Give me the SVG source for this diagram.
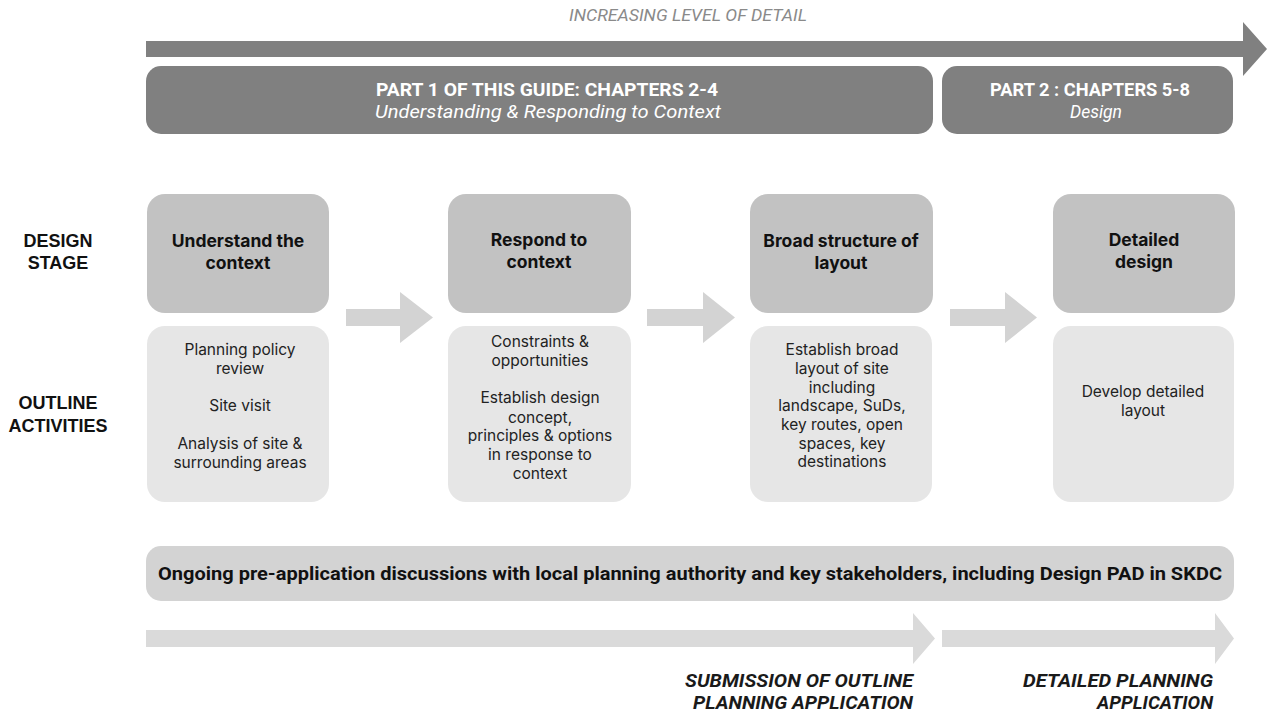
<svg xmlns="http://www.w3.org/2000/svg" width="1267" height="713" viewBox="0 0 1267 713">
<style>
.bg{fill:#ffffff}
.dark{fill:#808080}
.stage{fill:#c2c2c2}
.act{fill:#e6e6e6}
.conn{fill:#d3d3d3}
.lowarrow{fill:#dadada}
.ongoing{fill:#d3d3d3}
.top{font-family:Roboto,"Liberation Sans",sans-serif;font-style:italic;font-size:16.5px;fill:#8a8a8a;text-anchor:middle}
.parth{font-family:Roboto,"Liberation Sans",sans-serif;font-weight:700;font-size:18.5px;fill:#ffffff;text-anchor:middle}
.parti{font-family:Roboto,"Liberation Sans",sans-serif;font-style:italic;font-size:18.5px;fill:#ffffff;text-anchor:middle}
.rowlab{font-family:"Liberation Sans",Arial,sans-serif;font-weight:700;font-size:18px;fill:#111;text-anchor:middle}
.title{font-family:Inter,"Liberation Sans",sans-serif;font-weight:700;font-size:17.5px;fill:#111;text-anchor:middle}
.body{font-family:Inter,"Liberation Sans",sans-serif;font-size:15.5px;fill:#222;text-anchor:middle}
.ong{font-family:Roboto,"Liberation Sans",sans-serif;font-weight:700;font-size:19px;fill:#111;text-anchor:middle}
.sub{font-family:Roboto,"Liberation Sans",sans-serif;font-weight:700;font-style:italic;font-size:19px;fill:#1a1a1a;text-anchor:end}
</style>
<rect class="bg" x="0" y="0" width="1267" height="713"/>

<g id="header">
<text class="top" x="688" y="21" textLength="238" lengthAdjust="spacingAndGlyphs">INCREASING LEVEL OF DETAIL</text>
<polygon class="dark" points="146,41 1243,41 1243,22 1267,49 1243,76 1243,57 146,57"/>
</g>

<g id="part1">
<rect class="dark" x="146" y="66" width="787" height="68" rx="15"/>
<text class="parth" x="547" y="96" textLength="342" lengthAdjust="spacingAndGlyphs">PART 1 OF THIS GUIDE: CHAPTERS 2-4</text>
<text class="parti" x="548" y="118" textLength="346" lengthAdjust="spacingAndGlyphs">Understanding &amp; Responding to Context</text>
</g>
<g id="part2">
<rect class="dark" x="942" y="66" width="291" height="68" rx="15"/>
<text class="parth" x="1090" y="96" textLength="200" lengthAdjust="spacingAndGlyphs">PART 2 : CHAPTERS 5-8</text>
<text class="parti" x="1096" y="118" textLength="52" lengthAdjust="spacingAndGlyphs">Design</text>
</g>

<g id="row-labels">
<text class="rowlab" x="58" y="247">DESIGN</text>
<text class="rowlab" x="58" y="269">STAGE</text>
<text class="rowlab" x="58" y="409">OUTLINE</text>
<text class="rowlab" x="58" y="432">ACTIVITIES</text>
</g>

<g id="stage1">
<rect class="stage" x="147" y="194" width="182" height="119" rx="18"/>
<text class="title" x="238" y="247">Understand the</text>
<text class="title" x="238" y="269">context</text>
</g>
<g id="activity1">
<rect class="act" x="147" y="326" width="182" height="176" rx="18"/>
<text class="body" x="240" y="355">Planning policy</text>
<text class="body" x="240" y="374">review</text>
<text class="body" x="240" y="411">Site visit</text>
<text class="body" x="240" y="449">Analysis of site &amp;</text>
<text class="body" x="240" y="468">surrounding areas</text>
</g>

<g id="stage2">
<rect class="stage" x="448" y="194" width="183" height="119" rx="18"/>
<text class="title" x="539" y="246">Respond to</text>
<text class="title" x="539" y="268">context</text>
</g>
<g id="activity2">
<rect class="act" x="448" y="326" width="183" height="176" rx="18"/>
<text class="body" x="540" y="347">Constraints &amp;</text>
<text class="body" x="540" y="366">opportunities</text>
<text class="body" x="540" y="403">Establish design</text>
<text class="body" x="540" y="423">concept,</text>
<text class="body" x="540" y="441">principles &amp; options</text>
<text class="body" x="540" y="460">in response to</text>
<text class="body" x="540" y="479">context</text>
</g>

<g id="stage3">
<rect class="stage" x="750" y="194" width="183" height="119" rx="18"/>
<text class="title" x="841" y="247">Broad structure of</text>
<text class="title" x="841" y="269">layout</text>
</g>
<g id="activity3">
<rect class="act" x="750" y="326" width="182" height="176" rx="18"/>
<text class="body" x="842" y="355">Establish broad</text>
<text class="body" x="842" y="374">layout of site</text>
<text class="body" x="842" y="393">including</text>
<text class="body" x="842" y="411">landscape, SuDs,</text>
<text class="body" x="842" y="430">key routes, open</text>
<text class="body" x="842" y="449">spaces, key</text>
<text class="body" x="842" y="467">destinations</text>
</g>

<g id="stage4">
<rect class="stage" x="1053" y="194" width="182" height="119" rx="18"/>
<text class="title" x="1144" y="246">Detailed</text>
<text class="title" x="1144" y="268">design</text>
</g>
<g id="activity4">
<rect class="act" x="1053" y="326" width="181" height="176" rx="18"/>
<text class="body" x="1143" y="397">Develop detailed</text>
<text class="body" x="1143" y="416">layout</text>
</g>

<g id="connectors">
<polygon class="conn" points="346,309 400,309 400,292 433,317.5 400,343 400,326 346,326"/>
<polygon class="conn" points="647,309 703,309 703,292 735,317.5 703,343 703,326 647,326"/>
<polygon class="conn" points="950,309 1005,309 1005,292 1037,317.5 1005,343 1005,326 950,326"/>
</g>

<g id="ongoing">
<rect class="ongoing" x="146" y="546" width="1088" height="55" rx="15"/>
<text class="ong" x="690" y="580" textLength="1064" lengthAdjust="spacingAndGlyphs">Ongoing pre-application discussions with local planning authority and key stakeholders, including Design PAD in SKDC</text>
</g>

<g id="timeline">
<polygon class="lowarrow" points="146,630 913,630 913,613 935,638.5 913,664 913,647 146,647"/>
<polygon class="lowarrow" points="942,630 1215,630 1215,613 1234,638.5 1215,664 1215,647 942,647"/>
<text class="sub" x="913" y="687" textLength="228" lengthAdjust="spacingAndGlyphs">SUBMISSION OF OUTLINE</text>
<text class="sub" x="913" y="709" textLength="220" lengthAdjust="spacingAndGlyphs">PLANNING APPLICATION</text>
<text class="sub" x="1213" y="687" textLength="190" lengthAdjust="spacingAndGlyphs">DETAILED PLANNING</text>
<text class="sub" x="1213" y="709" textLength="116" lengthAdjust="spacingAndGlyphs">APPLICATION</text>
</g>
</svg>
